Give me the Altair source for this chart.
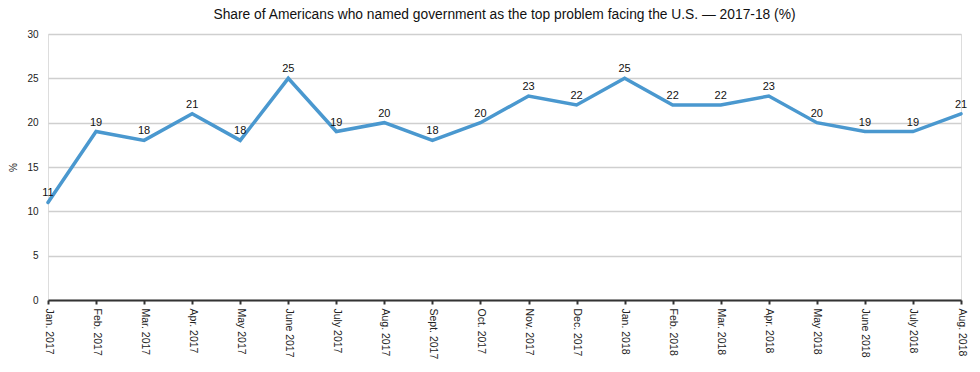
import altair as alt
import pandas as pd

months = ["Jan. 2017", "Feb. 2017", "Mar. 2017", "Apr. 2017", "May 2017", "June 2017",
          "July 2017", "Aug. 2017", "Sept. 2017", "Oct. 2017", "Nov. 2017", "Dec. 2017",
          "Jan. 2018", "Feb. 2018", "Mar. 2018", "Apr. 2018", "May 2018", "June 2018",
          "July 2018", "Aug. 2018"]
values = [11, 19, 18, 21, 18, 25, 19, 20, 18, 20, 23, 22, 25, 22, 22, 23, 20, 19, 19, 21]

df = pd.DataFrame({"month": months, "value": values})

x = alt.X("month:N", sort=months, scale=alt.Scale(type="point", padding=0),
          axis=alt.Axis(title=None, labelAngle=90, labelAlign="left", labelBaseline="middle",
                        labelFont="Liberation Sans", labelFontSize=10.5, labelColor="#222",
                        domainColor="#333", domainWidth=2, tickColor="#333", tickWidth=2,
                        tickSize=4, labelPadding=4, grid=False))
y = alt.Y("value:Q", scale=alt.Scale(domain=[0, 30], nice=False),
          axis=alt.Axis(title="%", titleFont="Liberation Sans", titleFontSize=10,
                        titleFontWeight="normal", titleColor="#222", titlePadding=8,
                        values=[0, 5, 10, 15, 20, 25, 30], labelFont="Liberation Sans",
                        labelFontSize=10, labelColor="#222", domain=False, ticks=False,
                        labelPadding=10, gridColor="#cfcfcf", gridWidth=1.5))

base = alt.Chart(df)
line = base.mark_line(color="#4a98cf", strokeWidth=3.5, strokeCap="round").encode(x=x, y=y)
labels = base.mark_text(dy=-9, font="Liberation Sans", fontSize=11, color="#111").encode(
    x=x, y=y, text="value:Q")

chart = (line + labels).properties(
    width=960, height=351,
    autosize=alt.AutoSizeParams(type="fit", contains="padding"),
    padding={"left": 0, "right": 0, "top": 0, "bottom": 0},
    title=alt.Title("Share of Americans who named government as the top problem facing the U.S. — 2017-18 (%)",
                    font="Liberation Sans", fontSize=13.8, fontWeight="normal", color="#111", offset=7),
).configure_view(fill="#f3faf2", stroke=None).configure(background="white")

chart.save("out.html", embed_options={"renderer": "svg", "actions": False})
